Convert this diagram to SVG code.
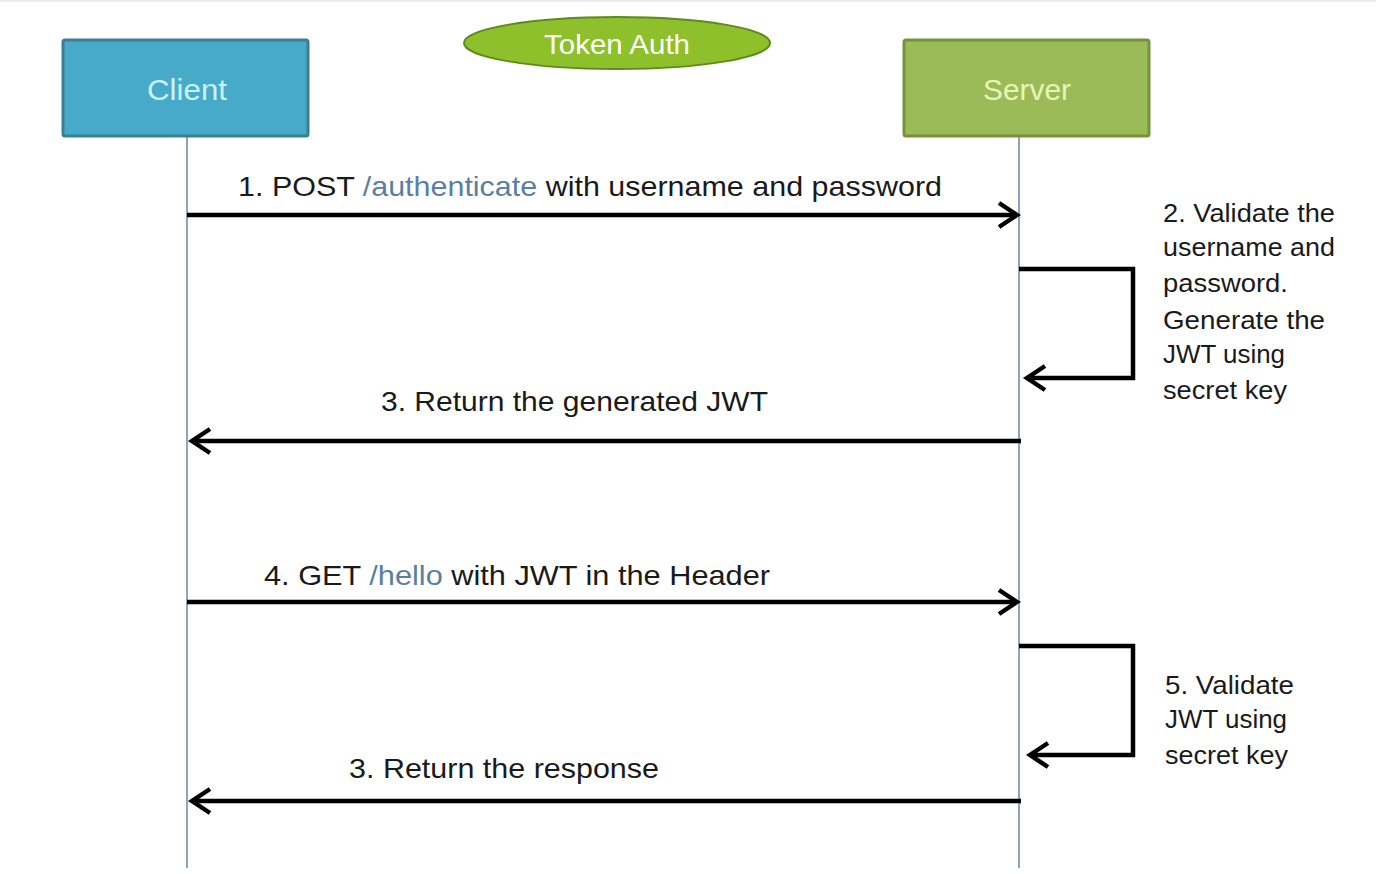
<svg xmlns="http://www.w3.org/2000/svg" width="1376" height="874" viewBox="0 0 1376 874">
<defs>
<style>
.lbl{font-family:"Liberation Sans","DejaVu Sans",sans-serif;font-size:28px;fill:#1a1a1a}
.side{font-family:"Liberation Sans","DejaVu Sans",sans-serif;font-size:25px;fill:#1a1a1a}
.path{fill:#5a7fa3}
.msg{stroke:#000;stroke-width:4.5;fill:none}
.life{stroke:#90a3bd;stroke-width:2}
</style>
<marker id="ah" markerUnits="userSpaceOnUse" markerWidth="30" markerHeight="30" orient="auto" refX="0" refY="0" viewBox="-22 -15 26 30" overflow="visible">
<path d="M-18,-12 L0,0 L-18,12" fill="none" stroke="#000" stroke-width="4.5" stroke-linejoin="miter"/>
</marker>
</defs>
<rect x="0" y="0" width="1376" height="874" fill="#fff"/>
<rect x="0" y="0" width="1376" height="2" fill="#ececec"/>

<g id="title">
<ellipse cx="617" cy="43" rx="153" ry="26" fill="#8dc02b" stroke="#5e8a1c" stroke-width="2"/>
<text x="617" y="54" text-anchor="middle" font-family="Liberation Sans, DejaVu Sans, sans-serif" font-size="28" fill="#fff" textLength="146" lengthAdjust="spacingAndGlyphs">Token Auth</text>
</g>

<g id="lifelines">
<line class="life" x1="187" y1="136" x2="187" y2="868"/>
<line class="life" x1="1019" y1="136" x2="1019" y2="868"/>
</g>

<g id="client">
<rect x="63" y="40" width="245" height="96" rx="2" fill="#47aac8" stroke="#3b7f93" stroke-width="3"/>
<text x="187" y="100" text-anchor="middle" font-family="Liberation Sans, DejaVu Sans, sans-serif" font-size="30" fill="#c9f3fb" textLength="80" lengthAdjust="spacingAndGlyphs">Client</text>
</g>

<g id="server">
<rect x="904" y="40" width="245" height="96" rx="2" fill="#9abb58" stroke="#76923d" stroke-width="3"/>
<text x="1027" y="100" text-anchor="middle" font-family="Liberation Sans, DejaVu Sans, sans-serif" font-size="30" fill="#e6f6b6" textLength="88" lengthAdjust="spacingAndGlyphs">Server</text>
</g>

<g id="connectors">
<line class="msg" x1="187" y1="215" x2="1017" y2="215" marker-end="url(#ah)"/>
<polyline class="msg" points="1019,269 1133,269 1133,378 1027,378" marker-end="url(#ah)"/>
<line class="msg" x1="1021" y1="441" x2="192" y2="441" marker-end="url(#ah)"/>
<line class="msg" x1="187" y1="602" x2="1017" y2="602" marker-end="url(#ah)"/>
<polyline class="msg" points="1019,646 1133,646 1133,755 1030,755" marker-end="url(#ah)"/>
<line class="msg" x1="1021" y1="801" x2="192" y2="801" marker-end="url(#ah)"/>
</g>

<g id="labels">
<text class="lbl" x="238" y="196" textLength="704" lengthAdjust="spacingAndGlyphs">1. POST <tspan class="path">/authenticate</tspan> with username and password</text>
<text class="lbl" x="381" y="411" textLength="387" lengthAdjust="spacingAndGlyphs">3. Return the generated JWT</text>
<text class="lbl" x="264" y="585" textLength="506" lengthAdjust="spacingAndGlyphs">4.  GET <tspan class="path">/hello</tspan> with JWT in the Header</text>
<text class="lbl" x="349" y="778" textLength="310" lengthAdjust="spacingAndGlyphs">3. Return the response</text>
</g>

<g id="note-validate-credentials">
<text class="side" x="1163" y="222" textLength="172" lengthAdjust="spacingAndGlyphs">2. Validate the</text>
<text class="side" x="1163" y="256" textLength="172" lengthAdjust="spacingAndGlyphs">username and</text>
<text class="side" x="1163" y="292" textLength="125" lengthAdjust="spacingAndGlyphs">password.</text>
<text class="side" x="1163" y="329" textLength="162" lengthAdjust="spacingAndGlyphs">Generate the</text>
<text class="side" x="1163" y="363" textLength="122" lengthAdjust="spacingAndGlyphs">JWT using</text>
<text class="side" x="1163" y="399" textLength="124" lengthAdjust="spacingAndGlyphs">secret key</text>
</g>

<g id="note-validate-jwt">
<text class="side" x="1165" y="694" textLength="129" lengthAdjust="spacingAndGlyphs">5. Validate</text>
<text class="side" x="1165" y="728" textLength="122" lengthAdjust="spacingAndGlyphs">JWT using</text>
<text class="side" x="1165" y="764" textLength="123" lengthAdjust="spacingAndGlyphs">secret key</text>
</g>
</svg>
